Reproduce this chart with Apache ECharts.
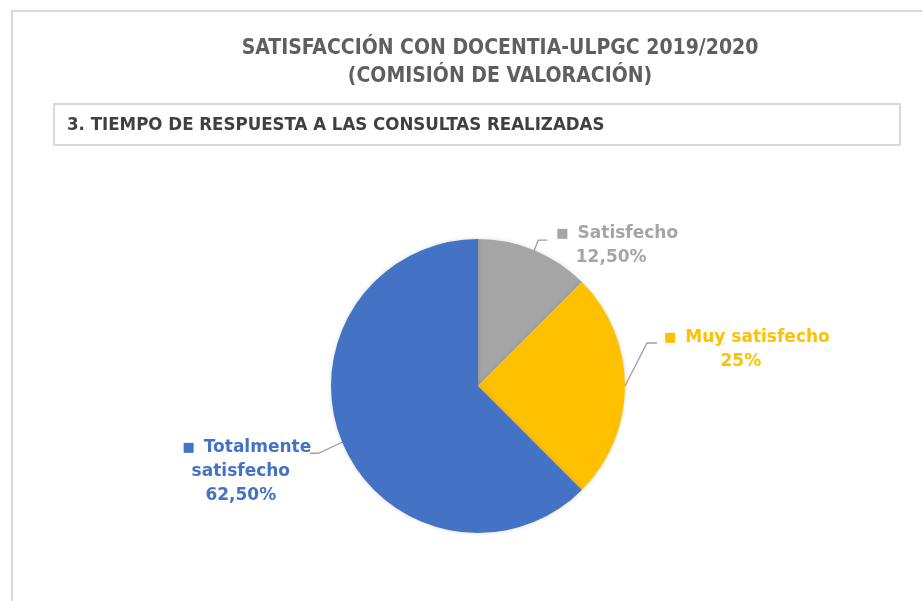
<!DOCTYPE html>
<html>
  <head>
    <meta charset="utf-8" />
    <title>ECharts</title>
    <script src="https://cdn.jsdelivr.net/npm/echarts@6/dist/echarts.min.js"></script>
    <style>
      html, body { margin: 0; padding: 0; background: #fff; }
    </style>
  </head>
  <body>
    <div id="main" style="width: 922px;height:601px;"></div>
    <script type="text/javascript">
      // datos del gráfico
      var categories = ['Satisfecho', 'Muy satisfecho', 'Totalmente satisfecho'];
      var labelNames = ['Satisfecho', 'Muy satisfecho', 'Totalmente\nsatisfecho'];
      var shares = [12.5, 25, 62.5];
      var percentLabels = ['12,50%', '25%', '62,50%'];
      var colors = ['#A5A5A5', '#FFC000', '#4472C4'];

      // desplazamientos de etiqueta y guía respecto al punto del arco
      var labelOffsets = [
        { side: 'left', dx: 22, dy: -29, elbow: [4, -10], end: [13, -10] },
        { side: 'left', dx: 39, dy: -60, elbow: [22, -43], end: [32, -43] },
        { side: 'right', dx: -31, dy: -7, elbow: [-24, 11], end: [-32, 11] }
      ];

      var myChart = echarts.init(document.getElementById('main'));

      var data = categories.map(function (c, i) {
        return {
          name: c,
          value: shares[i],
          itemStyle: { color: colors[i] },
          label: { color: colors[i] }
        };
      });

      myChart.setOption({
        animation: false,
        title: {
          text: 'SATISFACCIÓN CON DOCENTIA-ULPGC 2019/2020\n(COMISIÓN DE VALORACIÓN)',
          left: 495,
          top: 30,
          textAlign: 'center',
          textStyle: {
            fontFamily: 'DejaVu Sans Condensed',
            fontSize: 21,
            fontWeight: 'bold',
            color: '#5F5F5F',
            lineHeight: 28
          }
        },
        graphic: [
          {
            type: 'rect',
            shape: { x: 12, y: 11, width: 940, height: 620 },
            style: { fill: 'none', stroke: '#D9D9D9', lineWidth: 2 },
            silent: true
          },
          {
            type: 'rect',
            shape: { x: 54, y: 104, width: 846, height: 41 },
            style: { fill: '#fff', stroke: '#D9D9D9', lineWidth: 2 },
            silent: true
          },
          {
            type: 'text',
            x: 67,
            y: 125,
            style: {
              text: '3. TIEMPO DE RESPUESTA A LAS CONSULTAS REALIZADAS',
              font: 'bold 18.5px "DejaVu Sans Condensed"',
              fill: '#404040',
              textVerticalAlign: 'middle'
            },
            silent: true
          }
        ],
        series: [
          {
            type: 'pie',
            center: [478, 386],
            radius: 147,
            startAngle: 90,
            clockwise: true,
            data: data,
            itemStyle: {
              shadowBlur: 4,
              shadowColor: 'rgba(0,0,0,0.15)'
            },
            label: {
              show: true,
              position: 'outside',
              fontFamily: 'DejaVu Sans',
              fontWeight: 'bold',
              fontSize: 17,
              lineHeight: 24,
              align: 'center',
              formatter: function (p) {
                var i = p.dataIndex;
                var lines = labelNames[i].split('\n');
                var out = '{sq|■}{t|' + lines[0] + '}';
                for (var k = 1; k < lines.length; k++) {
                  out += '\n{t|' + lines[k] + '}{sp| }';
                }
                out += '\n{t|' + percentLabels[i] + '}{sp| }';
                return out;
              },
              rich: {
                sq: { fontSize: 13, padding: [0, 9, 0, 0], lineHeight: 24 },
                t: { fontSize: 17, fontWeight: 'bold', fontFamily: 'DejaVu Sans', lineHeight: 24 },
                sp: { width: 12, fontSize: 17, lineHeight: 24 }
              }
            },
            labelLine: {
              show: true,
              length: 10,
              length2: 9,
              lineStyle: { color: '#9E9E9E', width: 1.3 }
            },
            labelLayout: function (params) {
              var o = labelOffsets[params.dataIndex];
              var a = params.labelLinePoints[0];
              var w = params.labelRect.width;
              var x = o.side === 'left' ? a[0] + o.dx + w / 2 : a[0] + o.dx - w / 2;
              return {
                x: x,
                y: a[1] + o.dy,
                align: 'center',
                verticalAlign: 'top',
                labelLinePoints: [
                  [a[0], a[1]],
                  [a[0] + o.elbow[0], a[1] + o.elbow[1]],
                  [a[0] + o.end[0], a[1] + o.end[1]]
                ]
              };
            }
          }
        ]
      });
    </script>
  </body>
</html>
